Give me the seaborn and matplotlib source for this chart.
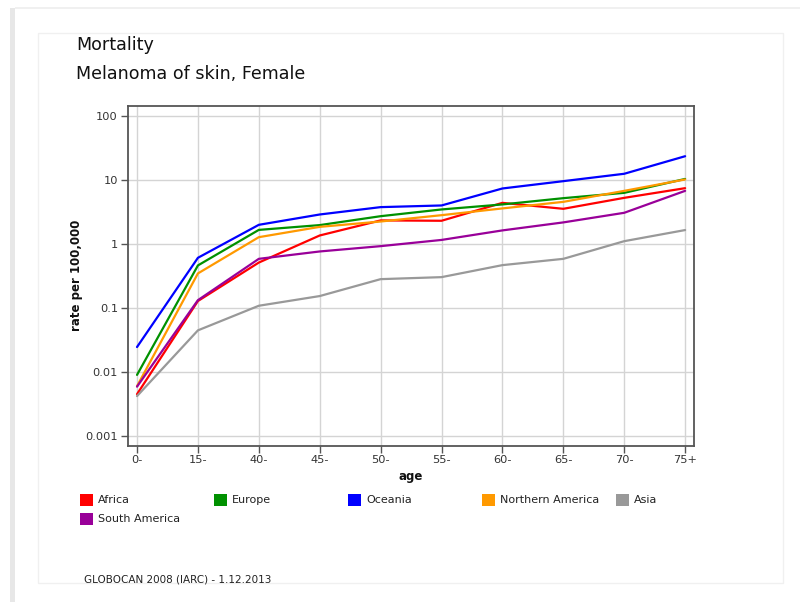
import numpy as np
import pandas as pd
import matplotlib
matplotlib.use("Agg")
import matplotlib.pyplot as plt
from matplotlib.patches import Rectangle
import seaborn as sns

# Age groups and mortality rates per 100,000 (female melanoma of skin)
ages = ["0-", "15-", "40-", "45-", "50-", "55-", "60-", "65-", "70-", "75+"]
africa = [0.0045, 0.128, 0.51, 1.35, 2.32, 2.29, 4.36, 3.52, 5.22, 7.39]
europe = [0.0090, 0.46, 1.65, 1.96, 2.70, 3.44, 4.12, 5.16, 6.25, 10.3]
oceania = [0.0245, 0.605, 1.98, 2.87, 3.74, 3.97, 7.31, 9.51, 12.4, 23.3]
north_america = [0.0060, 0.345, 1.27, 1.84, 2.23, 2.80, 3.57, 4.52, 6.71, 10.1]
asia = [0.0042, 0.0446, 0.108, 0.153, 0.281, 0.302, 0.465, 0.583, 1.10, 1.64]
south_america = [0.0059, 0.132, 0.583, 0.76, 0.92, 1.15, 1.62, 2.16, 3.05, 6.71]

regions = ["Africa", "Europe", "Oceania", "Northern America", "Asia", "South America"]
series = [africa, europe, oceania, north_america, asia, south_america]
colors = ["#FF0000", "#009100", "#0000FF", "#FF9900", "#999999", "#990099"]

y_ticks = [0.001, 0.01, 0.1, 1, 10, 100]
y_tick_labels = ["0.001", "0.01", "0.1", "1", "10", "100"]

rows = []
for name, vals in zip(regions, series):
    for i, v in enumerate(vals):
        rows.append({"pos": i, "age": ages[i], "region": name, "rate": v})
df = pd.DataFrame(rows)

sns.set_theme(style="white")
plt.rcParams["font.family"] = ["DejaVu Sans"]

W, H = 800, 602
fig = plt.figure(figsize=(W / 100, H / 100), dpi=100)
fig.patch.set_facecolor("white")

def fx(px):
    return px / W

def fy(py):
    return 1 - py / H

# page panel with soft edges (kept behind the axes)
fig.patches.append(Rectangle((fx(10), fy(602)), fx(5), fy(8) - fy(602),
                             transform=fig.transFigure, facecolor="#d8d8d8",
                             edgecolor="none", alpha=0.6, zorder=-5))
fig.patches.append(Rectangle((fx(15), fy(9)), fx(785), fy(7) - fy(9),
                             transform=fig.transFigure, facecolor="#f0f0f0",
                             edgecolor="none", zorder=-5))
fig.patches.append(Rectangle((fx(38), fy(583)), fx(783 - 38), fy(33) - fy(583),
                             transform=fig.transFigure, facecolor="white",
                             edgecolor="#f0f0f0", linewidth=1.0, zorder=-4))

ax = fig.add_axes([fx(127.7), fy(445.7), fx(694 - 127.7), fy(105.7) - fy(445.7)])
ax.set_zorder(2)

palette = dict(zip(regions, colors))
sns.lineplot(data=df, x="pos", y="rate", hue="region", hue_order=regions,
             palette=palette, linewidth=1.6, legend=False, ax=ax, zorder=3)

ax.set_yscale("log")
ax.set_ylim(10 ** -3.151, 10 ** 2.156)
ax.set_xlim(-0.153, 9.146)
ax.set_yticks(y_ticks)
ax.set_yticklabels(y_tick_labels)
ax.yaxis.set_minor_locator(matplotlib.ticker.NullLocator())
ax.set_xticks(range(len(ages)))
ax.set_xticklabels(ages)

ax.grid(True, color="#d4d4d4", linewidth=1.0, zorder=0)
ax.set_axisbelow(True)
for s in ax.spines.values():
    s.set_color("#555555")
    s.set_linewidth(1.3)

ax.tick_params(axis="both", which="major", direction="out", length=5,
               width=1.0, color="#555555", labelsize=8.2, labelcolor="#333333",
               pad=2, left=True, bottom=True)

ax.set_xlabel("age", fontsize=8.5, fontweight="bold", color="#111111", labelpad=3)
ax.set_ylabel("rate per 100,000", fontsize=8.5, fontweight="bold",
              color="#111111")
ax.yaxis.set_label_coords(-0.079, 0.5)

# Titles
fig.text(fx(76), fy(45), "Mortality", fontsize=12.6, color="#111111",
         ha="left", va="center")
fig.text(fx(76), fy(74), "Melanoma of skin, Female", fontsize=12.6,
         color="#111111", ha="left", va="center")

# Legend swatches
for i, (name, col) in enumerate(zip(regions, colors)):
    c, r = i % 5, i // 5
    x0 = 80 + 134 * c
    yc = 500 + 19 * r
    fig.patches.append(Rectangle((fx(x0), fy(yc + 6)), fx(13), fy(yc - 6) - fy(yc + 6),
                                 transform=fig.transFigure, facecolor=col,
                                 edgecolor="none", zorder=2))
    fig.text(fx(x0 + 18), fy(yc), name, fontsize=8, color="#222222",
             ha="left", va="center")

fig.text(fx(84), fy(579), "GLOBOCAN 2008 (IARC) - 1.12.2013", fontsize=7.5,
         color="#222222", ha="left", va="center")

fig.savefig("out.png", dpi=100, facecolor="white")
